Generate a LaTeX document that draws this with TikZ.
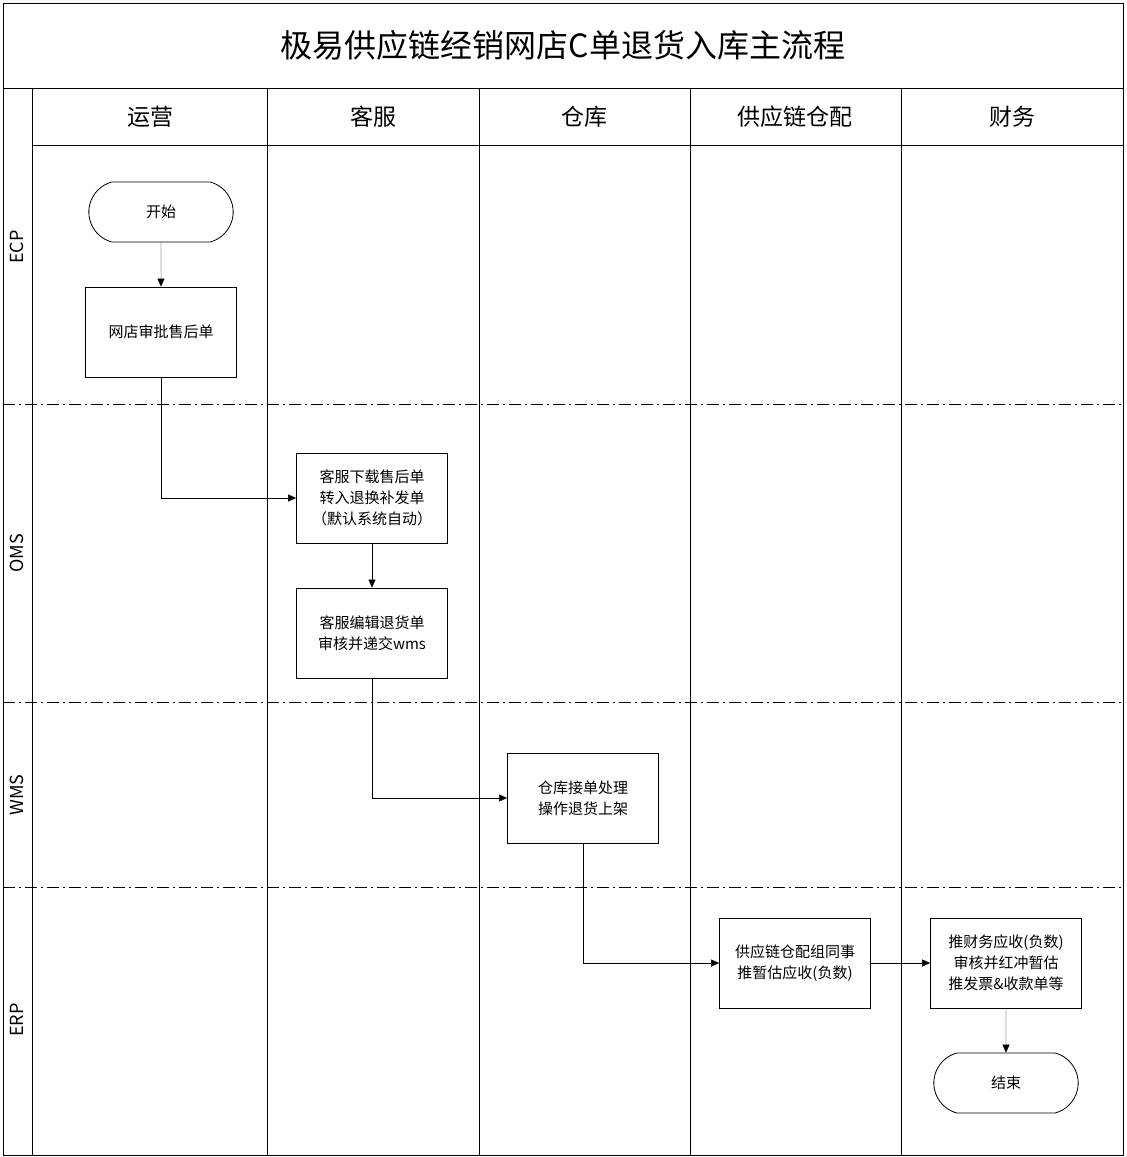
\documentclass[tikz,border=0pt]{standalone}
\usepackage{fontspec}
\setmainfont{Noto Sans CJK SC}
\usetikzlibrary{arrows.meta,shapes.misc}
\begin{document}
\begin{tikzpicture}[x=1pt,y=-1pt,
  box/.style={draw,thick,minimum width=151pt,minimum height=90pt,align=center,font=\fontsize{15}{21}\selectfont,inner sep=2pt},
  term/.style={draw,thick,rounded rectangle,rounded rectangle arc length=150,minimum width=151pt,minimum height=60pt,font=\fontsize{15}{21}\selectfont},
  arr/.style={-{Triangle[length=8pt,width=7pt]},thin},
  lane/.style={thick,dash pattern=on 12pt off 4pt on 2pt off 4pt},
  hdr/.style={font=\fontsize{23}{26}\selectfont},
  lbl/.style={font=\fontsize{18}{22}\selectfont,rotate=90}]
\useasboundingbox (0,0) rectangle (1127,1157);
\draw[thick] (3,3) rectangle (1123,1155);
\draw[thick] (3,88) -- (1123,88);
\draw[thick] (32,145) -- (1123,145);
\foreach \x in {32,267,479,690,901} \draw[thick] (\x,88) -- (\x,1155);
\foreach \y in {404,702,887} \draw[lane] (3,\y) -- (1123,\y);
\node[font=\fontsize{32}{36}\selectfont] (title) at (563,45) {极易供应链经销网店C单退货入库主流程};
\node[hdr] (h1) at (150,117) {运营};
\node[hdr] (h2) at (373,117) {客服};
\node[hdr] (h3) at (584,117) {仓库};
\node[hdr] (h4) at (795,117) {供应链仓配};
\node[hdr] (h5) at (1012,117) {财务};
\node[lbl] (l1) at (17,247) {ECP};
\node[lbl] (l2) at (17,553) {OMS};
\node[lbl] (l3) at (17,795) {WMS};
\node[lbl] (l4) at (17,1020) {ERP};
\node[term] (s) at (161,212) {开始};
\node[box] (n1) at (161,332) {网店审批售后单};
\node[box] (n2) at (372,498) {客服下载售后单\\转入退换补发单\\（默认系统自动）};
\node[box] (n3) at (372,633) {客服编辑退货单\\审核并递交wms};
\node[box] (n4) at (583,798) {仓库接单处理\\操作退货上架};
\node[box] (n5) at (795,963) {供应链仓配组同事\\推暂估应收(负数)};
\node[box] (n6) at (1006,963) {推财务应收(负数)\\审核并红冲暂估\\推发票\&收款单等};
\node[term] (e) at (1006,1083) {结束};
\draw[arr] (s) -- (n1);
\draw[arr] (n1.south) |- (n2.west);
\draw[arr] (n2) -- (n3);
\draw[arr] (n3.south) |- (n4.west);
\draw[arr] (n4.south) |- (n5.west);
\draw[arr] (n5) -- (n6);
\draw[arr] (n6) -- (e);
\end{tikzpicture}
\end{document}
